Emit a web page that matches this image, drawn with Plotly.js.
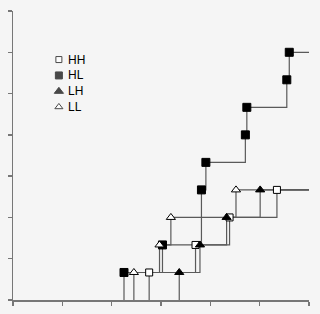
<!DOCTYPE html>
<html>
<head>
<meta charset="utf-8">
<script src="https://cdn.plot.ly/plotly-3.0.1.min.js"></script>
<style>
html,body{margin:0;padding:0;background:#f5f5f5;}
#chart{width:320px;height:314px;}
</style>
</head>
<body>
<div id="chart"></div>
<script>
// Series: event times (x) and cumulative levels (y)
var seriesNames = ["HH", "HL", "LH", "LL"];
var hhX = [2.76, 3.70, 4.39, 5.35];
var hhY = [1, 2, 3, 4];
var hlX = [2.25, 3.03, 3.82, 3.91, 4.71, 4.74, 5.55, 5.60];
var hlY = [1, 2, 4, 5, 6, 7, 8, 9];
var lhX = [3.37, 3.79, 4.33, 5.01];
var lhY = [1, 2, 3, 4];
var llX = [2.45, 2.97, 3.20, 4.52];
var llY = [1, 2, 3, 4];
var xEnd = 6;

// Legend positions (fraction of plot area)
var legendX = [0.155, 0.155, 0.155, 0.155];
var legendY = [0.832, 0.777, 0.722, 0.668];

var lineColor = "#5a5a5a";
var styles = {
  HH: {symbol: "square-open", size: 7, color: "#000"},
  HL: {symbol: "square", size: 8, color: "#000"},
  LH: {symbol: "triangle-up", size: 8, color: "#000"},
  LL: {symbol: "triangle-up-open", size: 8, color: "#000"}
};
var data = {HH: [hhX, hhY], HL: [hlX, hlY], LH: [lhX, lhY], LL: [llX, llY]};

var traces = [];
seriesNames.forEach(function (n) {
  var xs = data[n][0], ys = data[n][1];
  traces.push({
    x: [xs[0]].concat(xs, [xEnd]),
    y: [0].concat(ys, [ys[ys.length - 1]]),
    mode: "lines", line: {shape: "hv", color: lineColor, width: 1.2},
    hoverinfo: "skip", showlegend: false
  });
});
seriesNames.forEach(function (n) {
  var s = styles[n];
  var open = s.symbol.indexOf("open") >= 0;
  traces.push({
    x: data[n][0], y: data[n][1], mode: "markers", name: n, showlegend: false,
    marker: {
      symbol: open ? s.symbol.replace("-open", "") : s.symbol,
      size: s.size,
      color: open ? "#ffffff" : "#000000",
      line: {color: "#000000", width: 1}
    }
  });
});
// manual legend symbols on overlay axes
var legSyms = seriesNames.map(function (n) {
  var s = styles[n];
  return s.symbol.replace("-open", "");
});
traces.push({
  x: legendX, y: legendY, xaxis: "x2", yaxis: "y2", mode: "markers",
  showlegend: false, hoverinfo: "skip",
  marker: {
    symbol: legSyms, size: [6, 7, 8, 7],
    color: seriesNames.map(function (n) { return styles[n].symbol.indexOf("open") >= 0 ? "#ffffff" : "#000000"; }),
    line: {color: "#000000", width: 1}
  }
});

var annotations = seriesNames.map(function (n, i) {
  return {
    xref: "x2", yref: "y2", x: legendX[i] + 0.025, y: legendY[i],
    text: n, showarrow: false, xanchor: "left", yanchor: "middle",
    font: {family: "Liberation Sans, Arial, sans-serif", size: 12, color: "#000"}
  };
});

var layout = {
  width: 320, height: 314,
  margin: {l: 13, r: 11, t: 11, b: 14, pad: 0},
  paper_bgcolor: "#f5f5f5", plot_bgcolor: "#f5f5f5",
  showlegend: false,
  xaxis: {
    range: [0, 6], dtick: 1, tick0: 0, showgrid: false, zeroline: false,
    showline: true, linecolor: "#777", linewidth: 1.5,
    ticks: "outside", ticklen: 4, tickwidth: 1.5, tickcolor: "#777",
    showticklabels: false, fixedrange: true
  },
  yaxis: {
    range: [0, 10.5], dtick: 1.5, tick0: 0, showgrid: false, zeroline: false,
    showline: true, linecolor: "#777", linewidth: 1.5,
    ticks: "outside", ticklen: 4, tickwidth: 1.5, tickcolor: "#777",
    showticklabels: false, fixedrange: true
  },
  xaxis2: {overlaying: "x", range: [0, 1], visible: false, fixedrange: true},
  yaxis2: {overlaying: "y", range: [0, 1], visible: false, fixedrange: true},
  annotations: annotations
};

Plotly.newPlot("chart", traces, layout, {displayModeBar: false, staticPlot: true});
</script>
</body>
</html>
